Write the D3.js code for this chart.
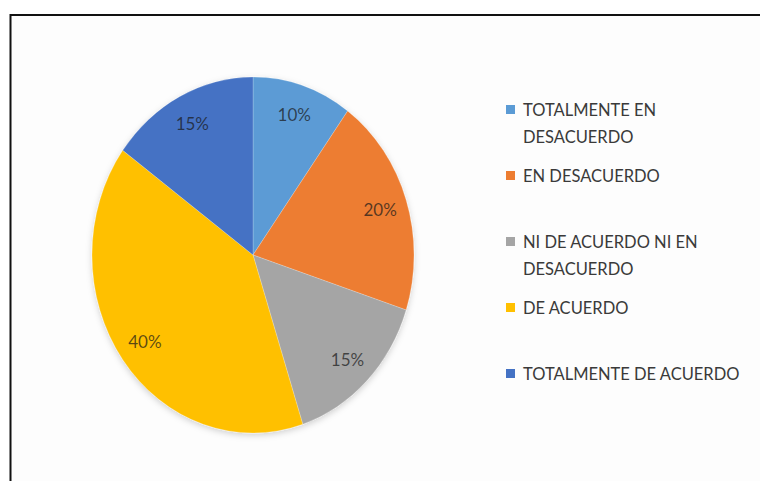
<!DOCTYPE html>
<html>
<head>
<meta charset="utf-8">
<script src="https://cdn.jsdelivr.net/npm/d3@7"></script>
<style>
  html, body { margin: 0; padding: 0; background: #fff; }
  svg { display: block; }
</style>
</head>
<body>
<svg id="chart" width="760" height="481"></svg>
<script>
// ---- data ----
const categories = [
  "TOTALMENTE EN DESACUERDO",
  "EN DESACUERDO",
  "NI DE ACUERDO NI EN DESACUERDO",
  "DE ACUERDO",
  "TOTALMENTE DE ACUERDO"
];
const legendLines = [
  ["TOTALMENTE EN", "DESACUERDO"],
  ["EN DESACUERDO"],
  ["NI DE ACUERDO NI EN", "DESACUERDO"],
  ["DE ACUERDO"],
  ["TOTALMENTE DE ACUERDO"]
];
const values = [10, 20, 15, 40, 15];
const labels = ["10%", "20%", "15%", "40%", "15%"];
const colors = ["#5B9BD5", "#ED7D31", "#A5A5A5", "#FFC000", "#4472C4"];

// ---- layout ----
const svg = d3.select("#chart");
const W = 760, H = 481;
const cx = 253, cy = 255, rx = 161, ry = 178;

// frame
svg.append("rect").attr("x", 11).attr("y", 15).attr("width", W - 11).attr("height", H - 15).attr("fill", "#fdfdfd");
svg.append("line").attr("x1", 10.5).attr("x2", 10.5).attr("y1", 14).attr("y2", H)
  .attr("stroke", "#111").attr("stroke-width", 2);
svg.append("line").attr("x1", 10).attr("x2", W).attr("y1", 15).attr("y2", 15)
  .attr("stroke", "#111").attr("stroke-width", 2);

const defs = svg.append("defs");
const f = defs.append("filter").attr("id", "shadow").attr("x", "-10%").attr("y", "-10%").attr("width", "120%").attr("height", "125%");
f.append("feDropShadow").attr("dx", 0).attr("dy", 2).attr("stdDeviation", 3).attr("flood-color", "#000").attr("flood-opacity", 0.18);

const pie = d3.pie().sort(null).value(d => d)(values);
const arc = d3.arc().innerRadius(0).outerRadius(rx);
const labelArc = d3.arc().innerRadius(rx * 0.83).outerRadius(rx * 0.83);

const g = svg.append("g").attr("transform", `translate(${cx},${cy}) scale(1,${ry / rx})`);
g.append("g").attr("filter", "url(#shadow)")
  .selectAll("path").data(pie).join("path")
  .attr("d", arc)
  .attr("fill", (d, i) => colors[i])
  .attr("stroke", "#fff").attr("stroke-width", 0.4).attr("stroke-opacity", 0.5);

// labels (not stretched)
svg.append("g").selectAll("text").data(pie).join("text")
  .attr("x", d => cx + labelArc.centroid(d)[0])
  .attr("y", d => cy + labelArc.centroid(d)[1] * ry / rx)
  .attr("text-anchor", "middle")
  .attr("dominant-baseline", "central")
  .attr("font-family", "Lato, 'Open Sans', sans-serif")
  .attr("font-size", 17)
  .attr("fill", "#1a1a1a").attr("fill-opacity", 0.72)
  .text((d, i) => labels[i]);

// legend
const lx = 506, ly0 = 109.5, lstep = 66, lineH = 27.5, sq = 9;
const leg = svg.append("g").selectAll("g").data(categories).join("g")
  .attr("transform", (d, i) => `translate(${lx},${ly0 + i * lstep})`);
leg.append("rect").attr("x", 0).attr("y", -sq / 2).attr("width", sq).attr("height", sq)
  .attr("fill", (d, i) => colors[i]);
leg.each(function (d, i) {
  const t = d3.select(this).append("text")
    .attr("font-family", "Lato, 'Open Sans', sans-serif")
    .attr("font-size", 16.5)
    .attr("fill", "#3a3a3a");
  legendLines[i].forEach((line, j) => {
    t.append("tspan").attr("x", 17).attr("y", j * lineH).attr("dominant-baseline", "central").text(line);
  });
});
</script>
</body>
</html>
